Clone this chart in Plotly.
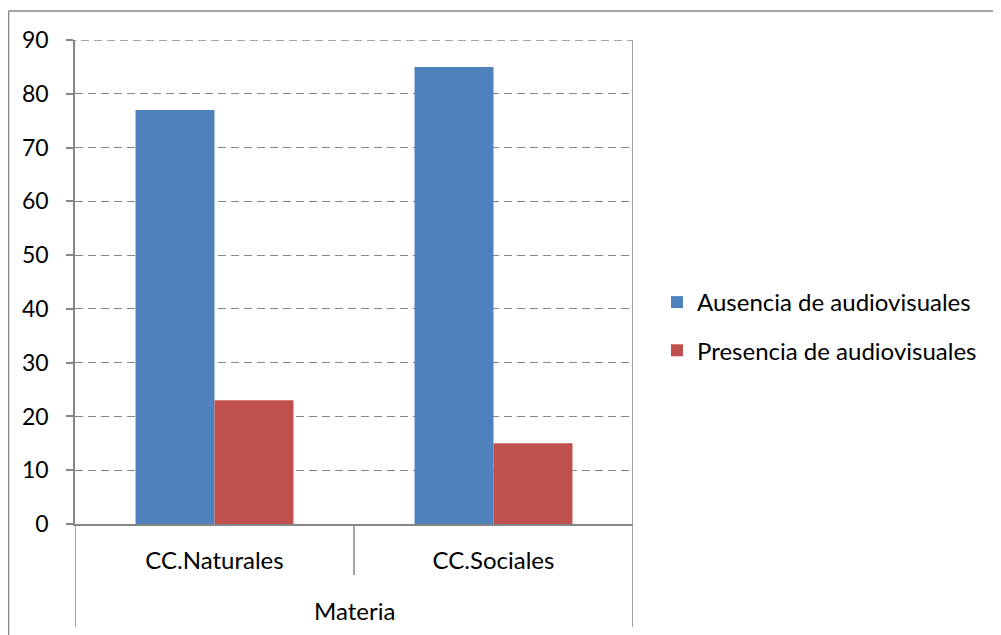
import plotly.graph_objects as go

categories = ["CC.Naturales", "CC.Sociales"]
ausencia = [77, 85]
presencia = [23, 15]
series_names = ["Ausencia de audiovisuales", "Presencia de audiovisuales"]
outer_label = "Materia"
y_ticks = [0, 10, 20, 30, 40, 50, 60, 70, 80, 90]

FONT = "Lato"
GRAY = "#868686"
OFF = 8  # page body margin

W, H = 1001 - OFF, 635 - OFF
L, R, T, B = 75 - OFF, 633 - OFF, 40 - OFF, 524 - OFF
pw, ph = R - L, B - T

def px_x(x):  # page pixel -> paper
    return (x - OFF - L) / pw

def px_y(y):
    return (B - (y - OFF)) / ph

fig = go.Figure()
fig.add_trace(go.Bar(x=categories, y=ausencia, name=series_names[0],
                     marker=dict(color="#4F81BD", line=dict(width=0)), legendgroup="a"))
fig.add_trace(go.Bar(x=categories, y=presencia, name=series_names[1],
                     marker=dict(color="#C0504D", line=dict(width=0)), legendgroup="b"))

shapes = []
# top gridline at 90 (dashed, extends over tick area)
shapes.append(dict(type="line", xref="paper", yref="y", x0=px_x(68), x1=1, y0=90, y1=90,
                   line=dict(color=GRAY, width=1.5, dash="8px,5px")))
# Category separators
for xv, ybot in [(-0.5, 627), (0.5, 575), (1.5, 627)]:
    shapes.append(dict(type="line", xref="x", yref="paper", x0=xv, x1=xv,
                       y0=0, y1=px_y(ybot), line=dict(color=GRAY, width=1.5)))
# Right plot border
shapes.append(dict(type="line", xref="x", yref="paper", x0=1.5, x1=1.5,
                   y0=0, y1=1, line=dict(color=GRAY, width=1.5)))
# Chart outer border (top and left)
shapes.append(dict(type="line", xref="paper", yref="paper", x0=px_x(8.5), x1=px_x(1010),
                   y0=px_y(11), y1=px_y(11), line=dict(color=GRAY, width=1.5)))
shapes.append(dict(type="line", xref="paper", yref="paper", x0=px_x(8.5), x1=px_x(8.5),
                   y0=px_y(11), y1=px_y(640), line=dict(color=GRAY, width=1.5)))

fig.update_layout(
    width=W, height=H,
    margin=dict(l=L, r=W - R, t=T, b=H - B, pad=0),
    paper_bgcolor="white", plot_bgcolor="white",
    font=dict(family=FONT, size=24, color="black"),
    barmode="group", bargap=0.434, bargroupgap=0,
    showlegend=True,
    legend=dict(x=px_x(657), y=px_y(280), xanchor="left", yanchor="top",
                font=dict(family=FONT, size=24, color="black"),
                tracegroupgap=14, bgcolor="rgba(0,0,0,0)"),
    xaxis=dict(range=[-0.5, 1.5], showline=True, linecolor=GRAY, linewidth=1.5,
               ticks="", showgrid=False, ticklabelstandoff=14,
               tickfont=dict(family=FONT, size=24, color="black")),
    yaxis=dict(range=[0, 90], tickvals=y_ticks, showline=True, linecolor=GRAY, linewidth=1.5,
               ticks="outside", ticklen=7, tickcolor=GRAY, tickwidth=1.5,
               showgrid=True, gridcolor=GRAY, griddash="8px,5px", gridwidth=1.3,
               zeroline=False, ticklabelstandoff=13,
               tickfont=dict(family=FONT, size=23, color="black")),
    shapes=shapes,
    annotations=[dict(text=outer_label, xref="paper", yref="paper", x=0.5, y=px_y(610),
                      showarrow=False, xanchor="center", yanchor="middle",
                      font=dict(family=FONT, size=24, color="black"))],
)

fig.write_html("out.html")
